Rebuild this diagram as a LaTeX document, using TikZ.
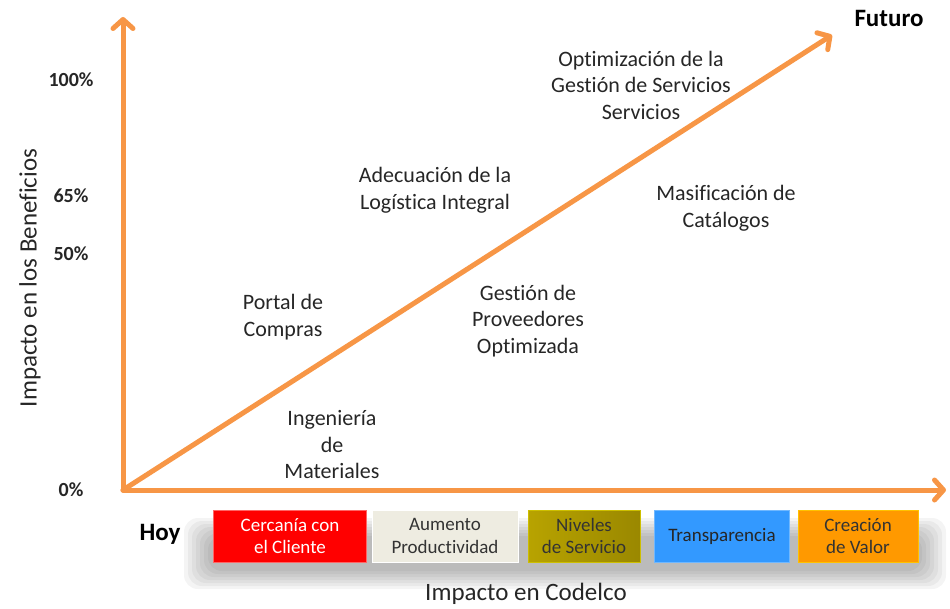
\documentclass[tikz,border=0pt]{standalone}
\usepackage{fontspec}
\setmainfont[Ligatures={NoCommon}]{Carlito}
\usetikzlibrary{arrows.meta}
\definecolor{axorange}{HTML}{F79646}
\definecolor{btnred}{HTML}{FF0000}
\definecolor{btnbeige}{HTML}{EEECE1}
\definecolor{oliveL}{HTML}{B8A300}
\definecolor{oliveR}{HTML}{9A8800}
\definecolor{btnblue}{HTML}{3399FF}
\definecolor{btnorange}{HTML}{FF9900}
\begin{document}
\begin{tikzpicture}[x=1pt,y=-1pt,
  axis/.style={draw=axorange,line width=5pt,line cap=round,
    -{Straight Barb[length=9pt,width=20pt,line width=5pt,round]}},
  lbl/.style={font=\fontsize{22}{26.5}\selectfont,align=center,text=black!85},
  pct/.style={font=\fontsize{20}{22}\selectfont\bfseries,text=black!85},
  big/.style={font=\fontsize{25}{28}\selectfont,text=black!85},
  bigb/.style={font=\fontsize{25}{28}\selectfont\bfseries,text=black},
  btn/.style={minimum width=#1,minimum height=52pt,inner sep=0pt,align=center,
    font=\fontsize{19}{22.5}\selectfont},
  shband/.style={fill=black,opacity=0.045,rounded corners=14pt},
]
\useasboundingbox (0,0) rectangle (950,608);
% shadow band behind buttons
\fill[shband] (184,518) rectangle (946,589);
\fill[shband] (188,521) rectangle (942,586);
\fill[shband] (192,524) rectangle (938,583);
\fill[shband] (196,527) rectangle (934,580);
\fill[shband] (200,530) rectangle (930,577);
\fill[shband] (204,533) rectangle (926,574);
\fill[shband] (208,536) rectangle (922,571);
% axes
\coordinate (O) at (123,490);
\coordinate (Ytop) at (123,17);
\coordinate (Xend) at (946,490);
\coordinate (Dend) at (832,35);
\draw[axis] (O) -- (Ytop);
\draw[axis] (O) -- (Xend);
\draw[axis] (O) -- (Dend);
% percentages
\node[pct] (p100) at (71,80) {100\%};
\node[pct] (p65) at (71,196) {65\%};
\node[pct] (p50) at (71,254) {50\%};
\node[pct] (p0) at (71,490) {0\%};
% axis labels
\node[big,rotate=90] (yl) at (30,278) {Impacto en los Beneficios};
\node[big] (xl) at (526,594) {Impacto en Codelco};
\node[bigb] (hoy) at (160,534) {Hoy};
\node[bigb] (fut) at (889,18) {Futuro};
% labels
\node[lbl] (opt) at (641,85) {Optimización de la\\Gestión de Servicios\\Servicios};
\node[lbl] (ade) at (435,190) {Adecuación de la\\Logística Integral};
\node[lbl] (mas) at (726,208) {Masificación de\\Catálogos};
\node[lbl] (por) at (283,317) {Portal de\\Compras};
\node[lbl] (ges) at (528,321) {Gestión de\\Proveedores\\Optimizada};
\node[lbl] (ing) at (332,445) {Ingeniería\\de\\Materiales};
% buttons
\node[btn=153pt,fill=btnred,draw=red!60!white,line width=1pt,text=white] (b1) at (290,536) {Cercanía con\\el Cliente};
\node[btn=146pt,fill=btnbeige,draw=white,line width=1pt,text=black!80] (b2) at (445,536) {Aumento\\Productividad};
\node[btn=112pt,left color=oliveL,right color=oliveR,draw=oliveL!70!yellow,line width=1pt,text=black!80] (b3) at (584,536) {Niveles\\de Servicio};
\node[btn=135pt,fill=btnblue,draw=btnblue!70!white,line width=1pt,text=black!85] (b4) at (722,536) {Transparencia};
\node[btn=120pt,fill=btnorange,draw=btnorange!60!yellow,line width=1pt,text=black!80] (b5) at (858,536) {Creación\\de Valor};
\end{tikzpicture}
\end{document}
